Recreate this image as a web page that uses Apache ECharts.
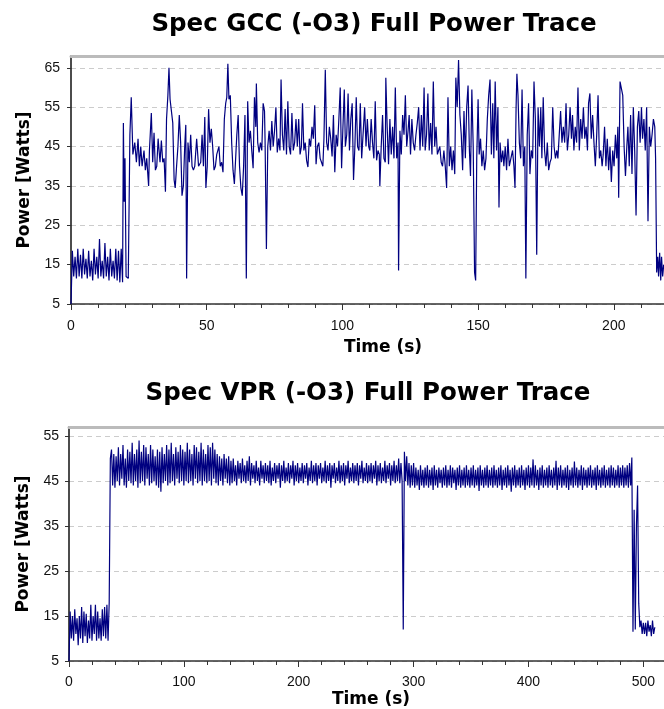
<!DOCTYPE html>
<html>
<head>
<meta charset="utf-8">
<script src="https://cdn.jsdelivr.net/npm/echarts@6/dist/echarts.min.js"></script>
<style>html,body{margin:0;padding:0;background:#fff;}#c{width:664px;height:709px;}</style>
</head>
<body>
<div id="c"></div>
<script>
// ---- DATA ----
const gccTitle = 'Spec GCC (-O3) Full Power Trace';
const vprTitle = 'Spec VPR (-O3) Full Power Trace';
const yName = 'Power [Watts]';
const xName = 'Time (s)';

// GCC trace: [time (s), power (W)]
const gccTrace = [
[0,5],[0.5,18.5],[1,12],[1.5,17],[2,11.5],[2.5,19],[3,12],[3.5,17.5],[4,11.5],[4.5,19],[5,12.5],[5.5,16.5],[6,11.5],[6.5,18.5],[7,12],[7.5,16],[8,11],[8.5,19],[9,12.5],[9.5,17],[10,11.5],[10.5,21.5],[11,12],[11.5,16],[12,11.5],[12.5,20.5],[13,12],[13.5,17],[14,11],[14.5,19],[15,12],[15.5,16],[16,11.5],[16.5,19],[17,11],[17.5,18.5],[18,10.5],[18.5,19],[19,10.5],[19.3,51],[19.6,31],[19.9,42],[20.3,12],[20.7,12.5],[21.1,11.5],[21.4,12],[21.7,48],[22.2,57.5],[22.8,43],
[23.5,46],[24.1,41],[24.7,47],[25.2,40],[25.7,45],[26.2,40],[26.9,44],[27.4,39],[27.9,42],[28.6,35],[28.9,44],[29.6,53.5],[30.1,41],[30.6,48.5],[31.1,39],[31.6,40],[32.1,47],[32.8,41],[33.3,46.5],[33.8,41],[34.3,42],[34.8,33.5],[35.2,52],[35.7,58],[36.1,65],[36.5,57],[37.0,57],[37.5,51],[38.0,36.5],[38.4,34.5],[38.9,40],[39.4,45],[39.9,53],[40.4,46],[40.9,32.5],[41.4,35],[41.9,45],[42.3,50.5],[42.6,11.5],[43.1,46],[43.6,41],[44.1,48],[44.6,40],[45.1,39],[45.6,40],[46.3,47],[47.0,40],[47.8,41],[48.3,48],[48.8,40],[49.3,52.5],[49.7,34.5],[50.2,40],[50.7,54.5],[51.2,46],[51.7,49.5],[52.2,45],[52.7,39],[53.2,40],[53.7,43],
[54.5,45],[55.0,40],[55.5,41],[56.0,38.5],[56.5,52],[57.0,56],[57.4,57.5],[57.8,66],[58.2,57],[58.7,58],[59.2,46],[59.7,39],[60.2,35.5],[60.7,35],[61.1,48],[61.6,53],[62.1,40],[62.6,34.5],[63.1,32.5],[63.6,40],[64.1,53],[64.6,11.5],[65.1,56.5],[65.6,46],[66.1,49],[66.6,44],[67.1,39.5],[67.6,57.5],[68.1,50],[68.3,61],[68.8,46],[69.3,43.5],[69.8,46],[70.3,44],[70.8,56],[71.3,54],[71.5,47],[72.0,19],[72.5,45],[73.0,49],[73.5,44],[74.0,51.5],[74.5,45],[75.0,49],[75.5,55],[76.0,43.5],[76.5,47],[77.0,44],[77.4,62],[77.9,48],[78.4,44],[78.9,54.5],[79.4,43],[79.9,56.5],[80.4,45],[80.9,43],[81.4,53.5],[81.9,44],[82.4,46],[82.9,52],[83.4,45],[83.9,52],[84.4,43],[84.9,45],[85.3,56],[85.8,44],[86.3,46],[86.8,41.5],[87.3,39.8],[87.8,47],[88.3,45],[88.8,50],[89.3,47],[89.8,55.5],[90.3,40.5],[90.8,45],[91.3,46],[91.8,42],[92.3,41],[92.8,40],[93.2,47],[93.7,64.5],[94.2,46],[94.7,44],[95.2,50],[95.7,47],[96.2,42.5],[96.7,53],[97.2,38.5],[97.7,48],[98.2,45],[98.7,52],[99.2,60],[99.7,39.5],[100.2,50],[100.7,59.5],[101.1,45],[101.6,48],[102.1,58.5],[102.6,44],[103.1,52],[103.6,56],[104.1,36.5],[104.6,45],[105.1,57.5],[105.6,45],[106.1,44],[106.6,56],[107.1,42],
[108.2,55],[108.7,45],[109.2,52],[109.7,45],[110.1,44],[110.6,52],[111.1,46],[111.6,42],[112.1,56.5],[112.6,41.5],[113.1,44],[113.6,43],[113.8,35],[114.3,45],[114.8,53],[115.3,42],[115.8,41],[116.0,62.5],[116.5,50],[117.0,40.5],[117.5,52],[118.0,43],[118.5,50],[119.0,42],[119.5,60],[120.0,42],[120.5,46],[120.7,13.5],[121.2,49],[121.7,43],[122.2,53],[122.7,48],[123.2,58],[123.7,45],[124.2,49],[124.6,53],[125.1,43],[125.6,52],[126.1,46],[126.6,44],[127.1,48],[127.6,51],[128.1,55],[128.6,44],[129.1,53],[129.6,45],[130.1,60],[130.5,44],[131.0,48],[131.5,58.5],[132.0,44],[132.5,51],[133.0,43],[133.5,61.5],[134.0,45],[134.5,50],[135.0,43],[135.5,42.5],[135.9,45],[136.4,41],[136.9,40],[137.4,44],[137.9,40],[138.4,34.5],[138.9,57.5],[139.4,40],[139.9,45],[140.4,39],[140.9,44],[141.4,38],[141.8,62.5],[142.3,55],[142.8,67],[143.3,53],[143.8,48],[144.3,39],[144.8,54],[145.3,42],[145.8,55],[146.3,60.5],[146.8,44],[147.2,37.5],[147.7,59.5],[148.2,45],[148.7,13],[149.1,11],[149.5,42],[150.0,57],[150.4,43],[150.9,47],[151.4,40],[151.9,44],[152.4,39],[152.9,42],[153.4,52],[153.9,58],[154.4,62],[154.9,43],[155.4,56],[155.8,42],[156.3,61.5],[156.8,44],[157.3,55],[157.7,29.5],[158.1,46],[158.6,41],[159.1,44],[159.5,40],[160.0,45],[160.5,39],[161.0,47],[161.5,40],
[162.2,40],[162.7,44],[163.2,40],[163.6,34.5],[164.0,55],[164.3,63.5],[164.7,58],[165.2,46],[165.7,42],[166.2,59.5],[166.7,40],[167.2,45],[167.6,11.5],[168.1,48],[168.6,56],[169.1,38],[169.6,44],[170.1,42],[170.6,61.5],[171.1,52],[171.6,17.5],[172.1,55],[172.6,45],[173.1,55],[173.5,42],[174.0,57.5],[174.5,44],[175.0,40],[175.5,46],[176.0,39],[176.5,41],[177.0,42],[177.5,55],[178.0,45],[178.5,42],[179.0,44],[179.4,42],[179.9,48],[180.4,54],[180.9,46],[181.4,50],[181.9,46],[182.4,56],[182.9,44],[183.4,48],[183.9,55],[184.4,47],[184.8,53],[185.3,44],[185.8,50],[186.3,46],[186.8,60],[187.3,44],[187.8,52],[188.3,47],[188.8,55],[189.3,47],[189.8,50],[190.3,44],[190.7,56],[191.2,58.5],[191.7,47],[192.2,53],[192.7,46],[193.2,40],[193.7,48],[194.2,58],[194.7,42],[195.2,44],[195.7,40],[196.1,43],[196.6,50],[197.1,40],[197.6,47],[198.1,39],[198.6,45],[199.1,36],[199.6,44],[200.1,40],[200.6,48],[201.1,42],[201.5,50],[201.8,32],[202.3,61.5],[202.8,62],[203.3,58],[203.8,45],[204.3,37.5],[204.8,45],[205.2,50],[205.7,40],[206.2,53],[206.7,38],[207.2,55],[207.7,44],[208.2,27.5],[208.7,50],[209.2,54],[209.7,46],[210.2,55],[210.6,47],[211.1,52],[211.6,44],[212.1,55],[212.6,26],[213.1,50],[213.6,45],[214.1,48],[214.6,52],[215.1,50],[215.4,42],[215.8,13],[216.2,17],[216.5,12],[216.9,18],[217.3,11],[217.6,17],[218.0,12],[218.4,15]
];

// VPR trace: one sample per second starting at t = 0
const vprStart = 0;
const vprStep = 1;
const vprPower = [
5,
16,10,15,9.5,16.5,11,14.5,8.5,15,10,17,9,16,10.5,15.5,9,14,10,17.5,9.5,15,11,17.5,9.5,16,10,14.5,9.5,16.5,10.5,17,10,17.5,9.5,18,
50,
52,44,51,43.5,50.5,45,52.5,44,51,45.5,
53,44,50,43.5,52,45,51.5,44.5,53.5,44,
51,45,52,43.5,54,44.5,51.5,45,53,44,
52.5,45.5,51,44,53,44.5,52,45,50.5,44,
52,43.5,51.5,42.6,52.5,44.5,51,45,53,44,
52,44.5,53.5,45,51,44,52.5,45.5,51.5,44.5,
53,45,52,44,51.5,45,53.5,44.5,52,45,
51,44,53,45.5,52.5,44.5,51.5,45,53.5,44,
52,45,51,44.5,53,45,52.5,44,53.5,45.5,
52,44.5,51,44,50.5,45,50,44,51,45.5,
50,44.5,50.5,44,
49.5,44.5,50,45,48.5,44,49.5,45.5,49,44.5,
50,45,48.5,44.5,49.5,45,50.5,44,49,45.5,
48.5,44.5,49.5,45,48,44,49.5,45.5,48.5,44.5,
49,45,48.5,44.5,49.5,44,48,45,49,44.5,
48.5,45.5,49,43.5,48.5,45,49.5,44.5,48,45,
49,44.5,48.5,45.5,49.5,44,48.5,45,49,44.5,
48,45,49,44.5,48.5,45.5,49,44,48,45,
49.5,44.5,48.5,45,49,44,48.5,45.5,49,44.5,
48,45,49.5,44.5,48.5,45,49,43.5,48.5,45.5,
49,44.5,48,45,49.5,44.5,48.5,45,49,44,
48.5,45.5,49.5,44.5,48,45,49,44.5,48.5,45,
49,44,48.5,45.5,49.5,44.5,48,45,49,44.5,
48.5,45,49,44.5,48.5,45.5,49.5,44,48.5,45,
49,44.5,48,45,49.5,44.5,48.5,45.5,49,44,
48.5,45,49.5,44.5,48.5,45,50,44.5,49,45,
12,
51.5,45,50.5,44,49,43.5,48.5,44,49,
43.5,48,44,47.5,43,48.5,44,47.5,43.5,48,
44,48.5,43.5,47.5,44,48,43,48.5,44,47.5,
43.5,48,44.5,47.5,43.5,48,44,48.5,43.5,47.5,
44,48.5,43.5,48,44.5,47.5,43,48,44,48.5,
43.5,47.5,44,48,43.5,48.5,44,47.5,43.5,48,
44,48.5,43.5,47.5,44,48,42.8,48.5,44,47.5,
43.5,48,44,48.5,43.5,47.5,44,48,43.5,48.5,
44,47.5,43.5,48,44,48.5,43,47.5,44,48,
43.5,48.5,44,47.5,42.6,48,44,48.5,43.5,47.5,
44,48,43.5,48.5,44,47.5,43,48,44,48.5,
43.5,48,44,49.8,43.5,48.5,44,47.5,43,48,
44,48.5,43.5,47.5,44,48,43.5,48.5,44,47.5,
43.5,48,44,49.5,43,48,44,48.5,43.5,47.5,
44,48,43.5,48.5,43,47.5,44,48,43.5,49.3,
44,48,43.5,47.5,44,48.5,43,48,44,47.5,
43.5,48,44,48.5,43.5,47.5,44,48,43,48.5,
44,47.5,43.5,48,44,48.5,43.5,47.5,44,48,
43.5,48.5,44,48,43.5,47.5,44,48.5,43.5,48,
44,48.5,43.5,48,44,48.5,43.5,49,44,
50.2,
11.5,38.6,12,35,44,17.8,12.5,14,11,13.5,
11,13.5,10.5,14,11.5,13,10.5,14,11,12.5
];

// Axis settings (tick values)
const gccX = {min: 0, max: 218.5, interval: 50};
const vprX = {min: 0, max: 518, interval: 100};
const gccY = {min: 5, max: 68, interval: 10};
const vprY = {min: 5, max: 57, interval: 10};

// ---- CHART ----
const FONT = 'Liberation Sans, Arial, sans-serif';
const BOLDFONT = 'DejaVu Sans, Liberation Sans, sans-serif';
const LINE = '#000080';
const chart = echarts.init(document.getElementById('c'), null, {renderer: 'canvas'});

function bottomAxis(grid, cfg, labelMargin, nameGap, nameShift) {
  return {
    type: 'value', gridIndex: grid, position: 'bottom',
    min: cfg.min, max: cfg.max, interval: cfg.interval,
    axisLine: {show: true, onZero: false, lineStyle: {color: '#333', width: 1.5}},
    axisTick: {show: true, length: 6, lineStyle: {color: '#333', width: 1}},
    minorTick: {show: true, splitNumber: 5, length: 4, lineStyle: {color: '#333', width: 1}},
    axisLabel: {fontFamily: FONT, fontSize: 14, color: '#111', margin: labelMargin, showMaxLabel: false},
    splitLine: {show: false},
    name: xName, nameLocation: 'middle', nameGap: nameGap,
    nameTextStyle: {fontFamily: BOLDFONT, fontSize: 17, fontWeight: 'bold', color: '#000',
                    padding: [0, 0, 0, nameShift]}
  };
}
function topAxis(grid, cfg) {
  return {
    type: 'value', gridIndex: grid, position: 'top',
    min: cfg.min, max: cfg.max, interval: cfg.interval,
    axisLine: {show: true, onZero: false, lineStyle: {color: '#bbb', width: 3}},
    axisTick: {show: false}, axisLabel: {show: false}, splitLine: {show: false}
  };
}
function leftAxis(grid, cfg, labelMargin, nameGap) {
  return {
    type: 'value', gridIndex: grid,
    min: cfg.min, max: cfg.max, interval: cfg.interval,
    axisLine: {show: true, lineStyle: {color: '#111', width: 1.5}},
    axisTick: {show: true, length: 4, lineStyle: {color: '#333'}},
    axisLabel: {fontFamily: FONT, fontSize: 14, color: '#111', margin: labelMargin, showMaxLabel: false},
    splitLine: {show: true, lineStyle: {color: '#ccc', type: [5, 4], width: 1}},
    name: yName, nameLocation: 'middle', nameGap: nameGap,
    nameTextStyle: {fontFamily: BOLDFONT, fontSize: 17, fontWeight: 'bold', color: '#000'}
  };
}

const option = {
  animation: false,
  backgroundColor: '#fff',
  title: [
    {text: gccTitle, left: 369, top: 7, textAlign: 'center',
     textStyle: {fontFamily: BOLDFONT, fontSize: 24.5, fontWeight: 'bold', color: '#000'}},
    {text: vprTitle, left: 363, top: 376, textAlign: 'center',
     textStyle: {fontFamily: BOLDFONT, fontSize: 24.5, fontWeight: 'bold', color: '#000'}}
  ],
  grid: [
    {left: 71, right: 0, top: 56, height: 248},
    {left: 69, right: 0, top: 427, height: 234}
  ],
  xAxis: [bottomAxis(0, gccX, 15, 35, 31), topAxis(0, gccX), bottomAxis(1, vprX, 14, 30, 9), topAxis(1, vprX)],
  yAxis: [leftAxis(0, gccY, 11, 38), leftAxis(1, vprY, 10, 36)],
  series: [
    {type: 'line', xAxisIndex: 0, yAxisIndex: 0, data: gccTrace, showSymbol: false,
     lineStyle: {color: LINE, width: 1.2}, itemStyle: {color: LINE}, silent: true},
    {type: 'line', xAxisIndex: 2, yAxisIndex: 1,
     data: vprPower.map((v, i) => [vprStart + i * vprStep, v]), showSymbol: false,
     lineStyle: {color: LINE, width: 1.2}, itemStyle: {color: LINE}, silent: true}
  ]
};
chart.setOption(option);
</script>
</body>
</html>
